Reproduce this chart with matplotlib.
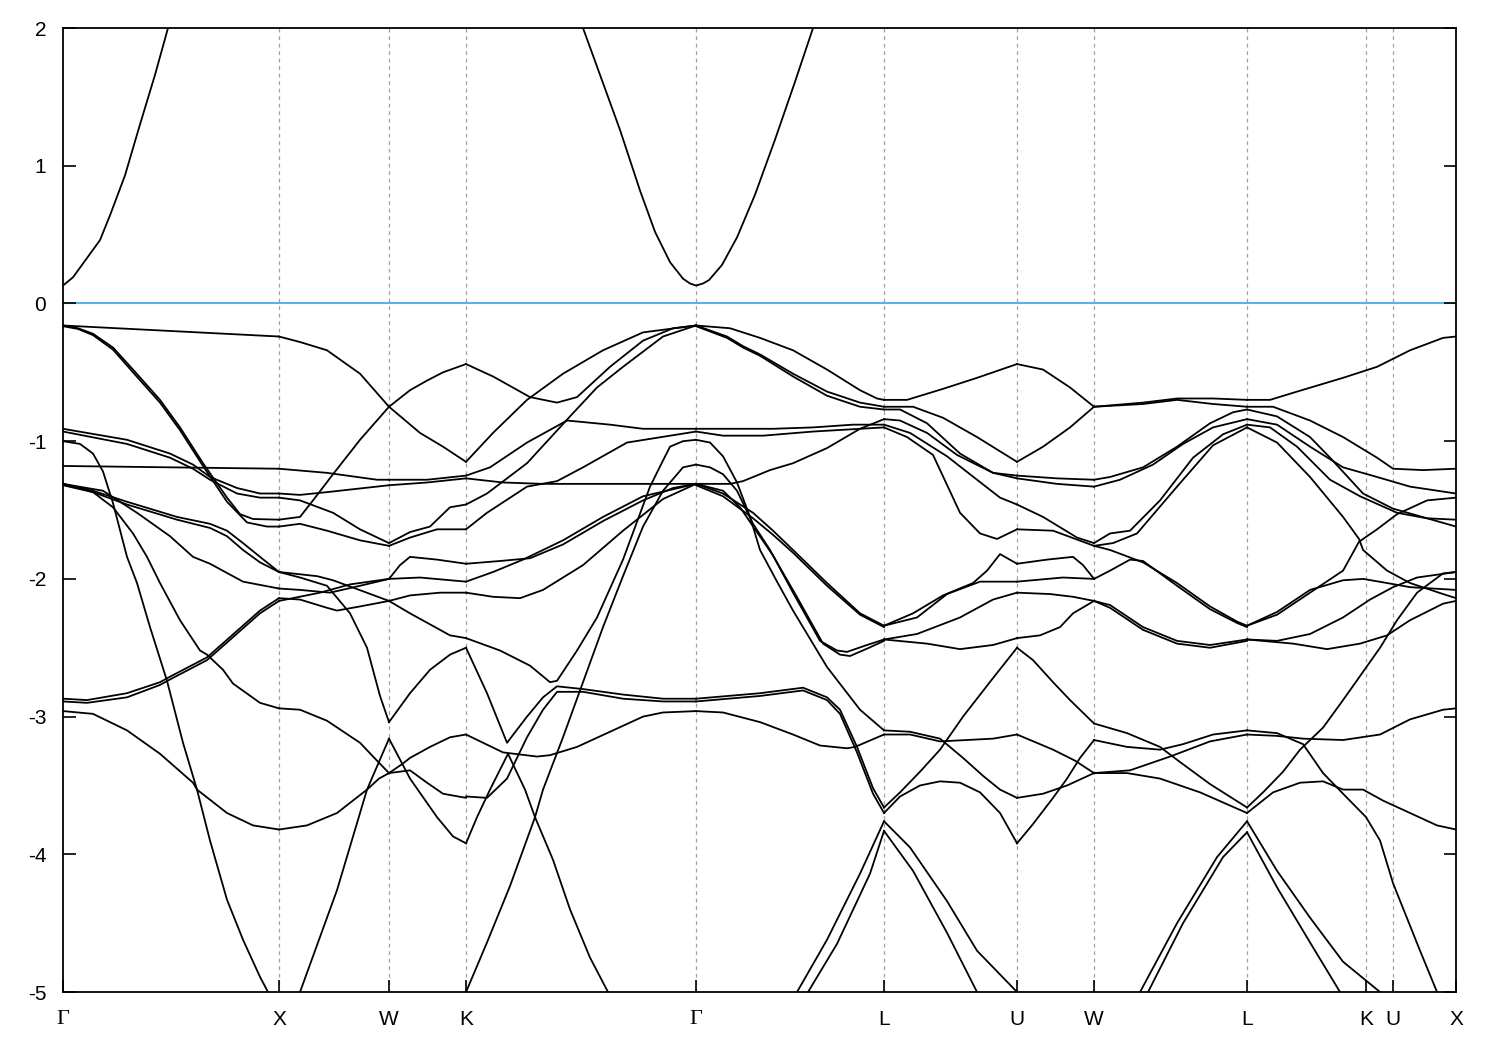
import numpy as np
import matplotlib
matplotlib.use("Agg")
import matplotlib.pyplot as plt

matplotlib.rcParams['axes.unicode_minus'] = False
matplotlib.rcParams['font.family'] = ['Liberation Sans', 'DejaVu Sans']

# k-path (path length, arbitrary units) and labels
k_ticks = [0, 216, 326, 403, 633, 821, 954, 1031, 1184, 1303, 1330, 1393]
k_labels = ['Γ', 'X', 'W', 'K', 'Γ', 'L', 'U', 'W', 'L', 'K', 'U', 'X']

# conduction band (eV)
cond_1 = [(0, 0.13), (10, 0.19), (25, 0.34), (37, 0.46), (47, 0.64), (62, 0.93), (77, 1.30), (92, 1.66), (105, 2.0), (110, 2.12)]
cond_2 = [(513, 2.12), (520, 2.0), (537, 1.66), (557, 1.26), (577, 0.82), (592, 0.52), (607, 0.30), (620, 0.18),
          (627, 0.145), (633, 0.13), (640, 0.145), (646, 0.17), (659, 0.28), (674, 0.48), (692, 0.79), (712, 1.19),
          (732, 1.61), (750, 2.0), (756, 2.12)]

# valence bands, one list of curves per path section: (k, E)
sec_GX = [
    [(0, -0.16), (108, -0.20), (216, -0.24)],
    [(0, -0.16), (15, -0.18), (30, -0.22), (50, -0.32), (70, -0.48), (97, -0.70), (117, -0.90), (140, -1.16), (164, -1.41), (177, -1.53), (190, -1.565), (216, -1.57)],
    [(0, -0.165), (15, -0.185), (30, -0.23), (50, -0.335), (70, -0.50), (97, -0.72), (117, -0.92), (140, -1.18), (164, -1.44), (184, -1.59), (204, -1.62), (216, -1.62)],
    [(0, -0.91), (64, -0.99), (107, -1.09), (130, -1.17), (147, -1.26), (174, -1.34), (197, -1.38), (216, -1.38)],
    [(0, -0.93), (64, -1.02), (107, -1.12), (130, -1.20), (147, -1.28), (174, -1.38), (197, -1.41), (216, -1.41)],
    [(0, -1.18), (108, -1.19), (216, -1.20)],
    [(0, -1.0), (17, -1.02), (30, -1.09), (40, -1.22), (50, -1.45), (64, -1.84), (74, -2.03), (87, -2.35), (104, -2.74), (120, -3.19), (134, -3.53), (147, -3.90), (164, -4.33), (180, -4.62), (197, -4.89), (205, -5.0), (216, -5.2)],
    [(0, -1.31), (30, -1.37), (50, -1.48), (70, -1.67), (84, -1.84), (97, -2.03), (117, -2.30), (137, -2.52), (144, -2.55), (160, -2.66), (170, -2.76), (197, -2.90), (216, -2.94)],
    [(0, -1.31), (30, -1.36), (64, -1.44), (114, -1.55), (147, -1.60), (164, -1.65), (180, -1.74), (197, -1.84), (216, -1.95)],
    [(0, -1.32), (30, -1.37), (64, -1.46), (114, -1.57), (147, -1.63), (164, -1.69), (180, -1.79), (197, -1.88), (216, -1.95)],
    [(0, -1.31), (40, -1.36), (74, -1.52), (107, -1.69), (130, -1.84), (147, -1.89), (180, -2.02), (216, -2.07)],
    [(0, -2.87), (24, -2.88), (64, -2.83), (97, -2.75), (107, -2.71), (144, -2.57), (197, -2.23), (216, -2.14)],
    [(0, -2.89), (24, -2.90), (64, -2.86), (97, -2.77), (107, -2.73), (144, -2.59), (197, -2.25), (216, -2.16)],
    [(0, -2.96), (30, -2.98), (64, -3.10), (97, -3.27), (130, -3.48), (134, -3.53), (164, -3.70), (190, -3.79), (216, -3.82)],
]

sec_XW = [
    [(216, -0.24), (237, -0.28), (264, -0.34), (297, -0.51), (326, -0.75)],
    [(216, -1.57), (237, -1.55), (250, -1.43), (270, -1.24), (297, -0.99), (326, -0.75)],
    [(216, -1.62), (237, -1.60), (264, -1.65), (297, -1.72), (326, -1.76)],
    [(216, -1.38), (237, -1.39), (264, -1.37), (326, -1.32)],
    [(216, -1.41), (237, -1.43), (270, -1.52), (297, -1.64), (326, -1.74)],
    [(216, -1.20), (264, -1.23), (314, -1.28), (326, -1.28)],
    [(216, -1.95), (254, -1.98), (270, -2.01), (300, -2.09), (326, -2.16)],
    [(216, -1.95), (237, -1.99), (264, -2.05), (287, -2.25), (304, -2.50), (317, -2.85), (326, -3.04)],
    [(216, -2.07), (237, -2.08), (267, -2.10), (297, -2.05), (326, -2.0)],
    [(216, -2.14), (237, -2.15), (264, -2.21), (274, -2.23), (297, -2.20), (326, -2.16)],
    [(216, -2.16), (257, -2.10), (287, -2.04), (326, -2.0)],
    [(216, -2.94), (237, -2.95), (264, -3.03), (297, -3.19), (314, -3.32), (326, -3.41)],
    [(216, -3.82), (244, -3.79), (274, -3.70), (304, -3.53), (316, -3.45), (326, -3.41)],
    [(216, -5.2), (237, -5.0), (274, -4.26), (304, -3.53), (326, -3.16)],
]

sec_WK = [
    [(326, -0.75), (357, -0.94), (380, -1.04), (403, -1.15)],
    [(326, -0.75), (347, -0.63), (364, -0.56), (380, -0.50), (403, -0.44)],
    [(326, -1.28), (364, -1.28), (403, -1.25)],
    [(326, -1.32), (364, -1.30), (403, -1.27)],
    [(326, -1.76), (347, -1.70), (374, -1.64), (403, -1.64)],
    [(326, -1.74), (347, -1.66), (367, -1.62), (387, -1.48), (403, -1.46)],
    [(326, -2.16), (347, -2.25), (367, -2.33), (387, -2.41), (403, -2.43)],
    [(326, -3.04), (337, -2.93), (347, -2.83), (367, -2.66), (387, -2.55), (403, -2.50)],
    [(326, -2.0), (357, -1.99), (403, -2.02)],
    [(326, -2.16), (347, -2.12), (377, -2.10), (403, -2.10)],
    [(326, -2.0), (337, -1.90), (347, -1.84), (374, -1.86), (403, -1.89)],
    [(326, -3.16), (347, -3.45), (374, -3.73), (390, -3.87), (403, -3.92)],
    [(326, -3.41), (347, -3.39), (364, -3.48), (380, -3.56), (403, -3.59)],
    [(326, -3.41), (340, -3.34), (347, -3.30), (367, -3.22), (387, -3.15), (403, -3.13)],
]

sec_KG = [
    [(403, -1.15), (430, -0.94), (464, -0.70), (500, -0.51), (540, -0.34), (580, -0.21), (633, -0.16)],
    [(403, -0.44), (430, -0.53), (467, -0.68), (494, -0.72), (514, -0.68), (547, -0.46), (580, -0.27), (610, -0.18), (633, -0.16)],
    [(403, -1.46), (424, -1.38), (464, -1.16), (507, -0.82), (534, -0.61), (560, -0.46), (600, -0.24), (633, -0.16)],
    [(403, -1.25), (427, -1.19), (464, -1.01), (504, -0.85), (547, -0.88), (580, -0.91), (633, -0.91)],
    [(403, -1.64), (424, -1.52), (464, -1.33), (494, -1.29), (520, -1.19), (564, -1.01), (633, -0.93)],
    [(403, -1.27), (440, -1.30), (480, -1.31), (633, -1.31)],
    [(403, -1.89), (437, -1.87), (467, -1.85), (500, -1.75), (540, -1.58), (580, -1.43), (610, -1.34), (633, -1.31)],
    [(403, -2.02), (430, -1.95), (460, -1.86), (500, -1.72), (540, -1.55), (580, -1.40), (633, -1.31)],
    [(403, -2.10), (430, -2.13), (457, -2.14), (480, -2.08), (520, -1.90), (560, -1.65), (600, -1.42), (633, -1.31)],
    [(403, -2.43), (437, -2.52), (467, -2.63), (487, -2.75), (494, -2.74), (514, -2.52), (534, -2.28), (560, -1.86), (587, -1.33), (600, -1.14), (607, -1.04), (620, -1.00), (633, -0.99)],
    [(403, -2.50), (424, -2.83), (444, -3.19), (464, -3.00), (480, -2.86), (494, -2.78), (520, -2.80), (560, -2.84), (600, -2.87), (633, -2.87)],
    [(403, -3.58), (424, -3.59), (444, -3.45), (464, -3.15), (480, -2.95), (494, -2.82), (520, -2.82), (560, -2.87), (600, -2.89), (633, -2.89)],
    [(403, -3.13), (440, -3.26), (474, -3.29), (487, -3.28), (514, -3.22), (547, -3.11), (580, -3.00), (600, -2.97), (633, -2.96)],
    [(403, -3.92), (414, -3.73), (427, -3.53), (445, -3.27), (462, -3.53), (472, -3.73), (490, -4.04), (507, -4.40), (527, -4.75), (545, -5.0), (552, -5.15)],
    [(396, -5.15), (403, -5.0), (424, -4.64), (447, -4.23), (472, -3.73), (480, -3.53), (500, -3.15), (520, -2.75), (540, -2.35), (560, -1.98), (580, -1.62), (600, -1.36), (620, -1.19), (633, -1.17)],
]

sec_GL = [
    [(633, -0.16), (667, -0.18), (697, -0.25), (730, -0.34), (764, -0.48), (797, -0.63), (814, -0.69), (821, -0.70)],
    [(633, -0.16), (664, -0.24), (680, -0.31), (697, -0.37), (730, -0.51), (764, -0.64), (797, -0.72), (821, -0.75)],
    [(633, -0.165), (664, -0.25), (680, -0.32), (697, -0.38), (730, -0.53), (764, -0.67), (797, -0.75), (821, -0.77)],
    [(633, -1.31), (667, -1.31), (680, -1.29), (707, -1.21), (730, -1.16), (764, -1.05), (797, -0.91), (821, -0.84)],
    [(633, -0.91), (710, -0.91), (750, -0.90), (790, -0.88), (821, -0.88)],
    [(633, -0.93), (660, -0.96), (700, -0.96), (750, -0.93), (821, -0.90)],
    [(633, -0.99), (647, -1.01), (660, -1.11), (674, -1.30), (687, -1.55), (697, -1.79), (714, -2.02), (730, -2.23), (764, -2.64), (797, -2.95), (821, -3.10)],
    [(633, -1.17), (647, -1.19), (660, -1.24), (674, -1.36), (690, -1.60), (707, -1.79), (730, -2.10), (757, -2.45), (774, -2.52), (784, -2.53), (804, -2.48), (821, -2.44)],
    [(633, -1.31), (660, -1.36), (677, -1.48), (693, -1.65), (710, -1.83), (733, -2.12), (760, -2.47), (777, -2.55), (787, -2.56), (806, -2.50), (821, -2.45)],
    [(633, -1.31), (660, -1.38), (690, -1.52), (710, -1.65), (730, -1.79), (764, -2.03), (797, -2.25), (821, -2.34)],
    [(633, -1.32), (660, -1.40), (690, -1.56), (710, -1.68), (730, -1.81), (764, -2.05), (797, -2.26), (821, -2.35)],
    [(633, -2.96), (660, -2.97), (697, -3.04), (730, -3.13), (757, -3.21), (784, -3.23), (792, -3.22), (821, -3.13)],
    [(633, -2.87), (697, -2.83), (740, -2.79), (764, -2.86), (777, -2.95), (794, -3.22), (810, -3.52), (821, -3.66)],
    [(633, -2.89), (697, -2.85), (740, -2.81), (764, -2.88), (777, -2.98), (794, -3.26), (810, -3.56), (821, -3.70)],
    [(725, -5.15), (734, -5.0), (764, -4.62), (797, -4.14), (821, -3.76)],
    [(737, -5.15), (745, -5.0), (774, -4.65), (807, -4.14), (821, -3.83)],
]

sec_LU = [
    [(821, -0.70), (844, -0.70), (880, -0.62), (914, -0.54), (954, -0.44)],
    [(821, -0.75), (850, -0.75), (880, -0.83), (914, -0.97), (954, -1.15)],
    [(821, -0.77), (837, -0.77), (864, -0.87), (897, -1.09), (930, -1.23), (954, -1.25)],
    [(821, -0.84), (837, -0.85), (864, -0.94), (894, -1.10), (930, -1.23), (954, -1.27)],
    [(821, -0.88), (847, -0.94), (884, -1.11), (914, -1.28), (937, -1.41), (954, -1.46)],
    [(821, -0.90), (844, -0.97), (870, -1.10), (897, -1.52), (917, -1.67), (934, -1.71), (954, -1.64)],
    [(821, -2.34), (850, -2.25), (880, -2.12), (910, -2.03), (924, -1.94), (937, -1.82), (954, -1.89)],
    [(821, -2.34), (854, -2.28), (884, -2.11), (917, -2.02), (954, -2.02)],
    [(821, -2.44), (854, -2.40), (897, -2.28), (930, -2.15), (954, -2.10)],
    [(821, -2.44), (864, -2.47), (897, -2.51), (930, -2.48), (954, -2.43)],
    [(821, -3.66), (837, -3.55), (857, -3.40), (877, -3.24), (900, -3.00), (930, -2.72), (954, -2.50)],
    [(821, -3.70), (837, -3.58), (857, -3.50), (877, -3.47), (897, -3.48), (917, -3.55), (937, -3.70), (954, -3.92)],
    [(821, -3.10), (847, -3.11), (877, -3.16), (900, -3.30), (920, -3.43), (937, -3.53), (954, -3.59)],
    [(821, -3.13), (847, -3.13), (877, -3.18), (930, -3.16), (954, -3.13)],
    [(821, -3.76), (847, -3.95), (884, -4.34), (914, -4.70), (954, -5.0), (960, -5.1)],
    [(821, -3.83), (850, -4.12), (884, -4.57), (914, -5.0), (920, -5.1)],
]

sec_UW = [
    [(954, -0.44), (980, -0.48), (1007, -0.61), (1031, -0.75)],
    [(954, -1.15), (980, -1.04), (1007, -0.90), (1031, -0.75)],
    [(954, -1.25), (994, -1.27), (1031, -1.28)],
    [(954, -1.27), (994, -1.31), (1031, -1.33)],
    [(954, -1.46), (980, -1.55), (1014, -1.70), (1031, -1.74)],
    [(954, -1.64), (990, -1.65), (1031, -1.76)],
    [(954, -1.89), (984, -1.86), (1010, -1.84), (1020, -1.90), (1031, -2.0)],
    [(954, -2.02), (1000, -1.99), (1031, -2.0)],
    [(954, -2.10), (987, -2.11), (1010, -2.13), (1031, -2.16)],
    [(954, -2.43), (977, -2.41), (997, -2.35), (1010, -2.25), (1031, -2.16)],
    [(954, -2.50), (970, -2.59), (990, -2.75), (1007, -2.88), (1031, -3.05)],
    [(954, -3.13), (990, -3.24), (1012, -3.32), (1031, -3.41)],
    [(954, -3.59), (980, -3.56), (1004, -3.50), (1031, -3.41)],
    [(954, -3.92), (970, -3.78), (990, -3.59), (1004, -3.45), (1017, -3.30), (1031, -3.17)],
]

sec_WL = [
    [(1031, -0.75), (1080, -0.72), (1114, -0.69), (1150, -0.69), (1184, -0.70)],
    [(1031, -0.75), (1080, -0.73), (1114, -0.70), (1150, -0.73), (1184, -0.75)],
    [(1031, -1.28), (1047, -1.26), (1080, -1.19), (1114, -1.04), (1147, -0.87), (1170, -0.79), (1184, -0.77)],
    [(1031, -1.33), (1057, -1.28), (1090, -1.17), (1120, -1.02), (1150, -0.90), (1184, -0.84)],
    [(1031, -1.74), (1047, -1.67), (1067, -1.65), (1097, -1.43), (1130, -1.12), (1160, -0.95), (1184, -0.88)],
    [(1031, -1.76), (1050, -1.74), (1074, -1.67), (1114, -1.33), (1150, -1.03), (1184, -0.90)],
    [(1031, -1.76), (1047, -1.79), (1080, -1.88), (1114, -2.03), (1147, -2.20), (1174, -2.31), (1184, -2.34)],
    [(1031, -2.0), (1047, -1.94), (1067, -1.86), (1080, -1.87), (1114, -2.05), (1147, -2.22), (1174, -2.32), (1184, -2.35)],
    [(1031, -2.16), (1047, -2.19), (1080, -2.35), (1114, -2.45), (1147, -2.48), (1184, -2.44)],
    [(1031, -2.16), (1047, -2.21), (1080, -2.37), (1114, -2.47), (1147, -2.50), (1184, -2.45)],
    [(1031, -3.05), (1064, -3.12), (1097, -3.22), (1117, -3.33), (1147, -3.49), (1184, -3.66)],
    [(1031, -3.17), (1064, -3.22), (1097, -3.24), (1120, -3.20), (1150, -3.13), (1184, -3.10)],
    [(1031, -3.41), (1067, -3.39), (1107, -3.29), (1147, -3.18), (1184, -3.13)],
    [(1031, -3.41), (1064, -3.41), (1097, -3.45), (1137, -3.55), (1184, -3.70)],
    [(1070, -5.15), (1077, -5.0), (1114, -4.50), (1154, -4.02), (1184, -3.76)],
    [(1078, -5.15), (1085, -5.0), (1120, -4.50), (1160, -4.02), (1184, -3.84)],
]

sec_LKUX = [
    [(1184, -0.70), (1207, -0.70), (1234, -0.64), (1280, -0.54), (1314, -0.46), (1347, -0.34), (1380, -0.25), (1393, -0.24)],
    [(1184, -0.75), (1210, -0.75), (1247, -0.85), (1280, -0.97), (1314, -1.12), (1330, -1.20), (1360, -1.21), (1393, -1.20)],
    [(1184, -0.77), (1214, -0.82), (1247, -0.97), (1267, -1.12), (1300, -1.38), (1330, -1.49), (1364, -1.56), (1393, -1.62)],
    [(1184, -0.84), (1214, -0.88), (1247, -1.04), (1280, -1.19), (1314, -1.26), (1347, -1.33), (1393, -1.38)],
    [(1184, -0.88), (1207, -0.90), (1234, -1.04), (1267, -1.28), (1297, -1.40), (1334, -1.52), (1364, -1.56), (1393, -1.57)],
    [(1184, -0.90), (1214, -1.01), (1247, -1.26), (1280, -1.55), (1296, -1.71), (1300, -1.79), (1324, -1.94), (1347, -2.03), (1380, -2.11), (1393, -2.14)],
    [(1184, -2.34), (1214, -2.26), (1247, -2.10), (1280, -1.94), (1296, -1.73), (1314, -1.64), (1334, -1.53), (1364, -1.43), (1393, -1.41)],
    [(1184, -2.34), (1214, -2.24), (1247, -2.08), (1280, -2.01), (1300, -2.0), (1324, -2.03), (1347, -2.06), (1393, -2.08)],
    [(1184, -2.44), (1230, -2.47), (1264, -2.51), (1297, -2.47), (1324, -2.41), (1347, -2.30), (1380, -2.18), (1393, -2.16)],
    [(1184, -2.44), (1214, -2.45), (1247, -2.40), (1280, -2.28), (1307, -2.15), (1330, -2.06), (1354, -1.99), (1393, -1.95)],
    [(1184, -3.66), (1200, -3.55), (1220, -3.40), (1237, -3.24), (1260, -3.08), (1280, -2.88), (1317, -2.50), (1334, -2.30), (1354, -2.10), (1380, -1.96), (1393, -1.95)],
    [(1184, -3.13), (1214, -3.14), (1240, -3.16), (1280, -3.17), (1317, -3.13), (1347, -3.02), (1380, -2.95), (1393, -2.94)],
    [(1184, -3.10), (1214, -3.12), (1240, -3.20), (1260, -3.41), (1280, -3.56), (1303, -3.73), (1317, -3.90), (1330, -4.21), (1357, -4.70), (1374, -5.0), (1380, -5.1)],
    [(1184, -3.70), (1210, -3.55), (1237, -3.48), (1260, -3.47), (1280, -3.53), (1300, -3.53), (1320, -3.61), (1347, -3.70), (1374, -3.79), (1393, -3.82)],
    [(1184, -3.76), (1214, -4.12), (1247, -4.46), (1280, -4.78), (1317, -5.0), (1324, -5.1)],
    [(1184, -3.84), (1214, -4.24), (1247, -4.64), (1277, -5.0), (1284, -5.1)],
]

sections = [sec_GX, sec_XW, sec_WK, sec_KG, sec_GL, sec_LU, sec_UW, sec_WL, sec_LKUX]

fig = plt.figure(figsize=(15, 10.5), dpi=100)
ax = fig.add_axes([0.042, 0.0552, 0.9287, 0.9181])

# vertical lines at high-symmetry points
for kt in k_ticks[1:-1]:
    ax.axvline(kt, color='#a0a0a0', lw=0.9, ls=(0, (3, 3)), zorder=0)

# Fermi level
ax.axhline(0, color='#56b4e9', lw=1.5, zorder=1)

for sec in sections + [[cond_1, cond_2]]:
    for curve in sec:
        kk = [p[0] for p in curve]
        ee = [p[1] for p in curve]
        ax.plot(kk, ee, color='black', lw=1.3, zorder=2, solid_joinstyle='round')

ax.set_xlim(k_ticks[0], k_ticks[-1])
ax.set_ylim(-5, 2)
ax.set_xticks(k_ticks)
ax.set_xticklabels(k_labels)
ax.set_yticks(range(-5, 3))
ax.set_yticklabels([str(v) for v in range(-5, 3)])
ax.tick_params(axis='both', direction='in', length=9, width=1.2, labelsize=15)
ax.tick_params(axis='y', right=True, pad=12)
ax.tick_params(axis='x', pad=13)
for lab in ax.get_xticklabels():
    if lab.get_text() == 'Γ':
        lab.set_fontfamily('Liberation Serif')
        lab.set_fontsize(16)
for s in ax.spines.values():
    s.set_linewidth(1.3)

plt.savefig('out.png', dpi=100)
